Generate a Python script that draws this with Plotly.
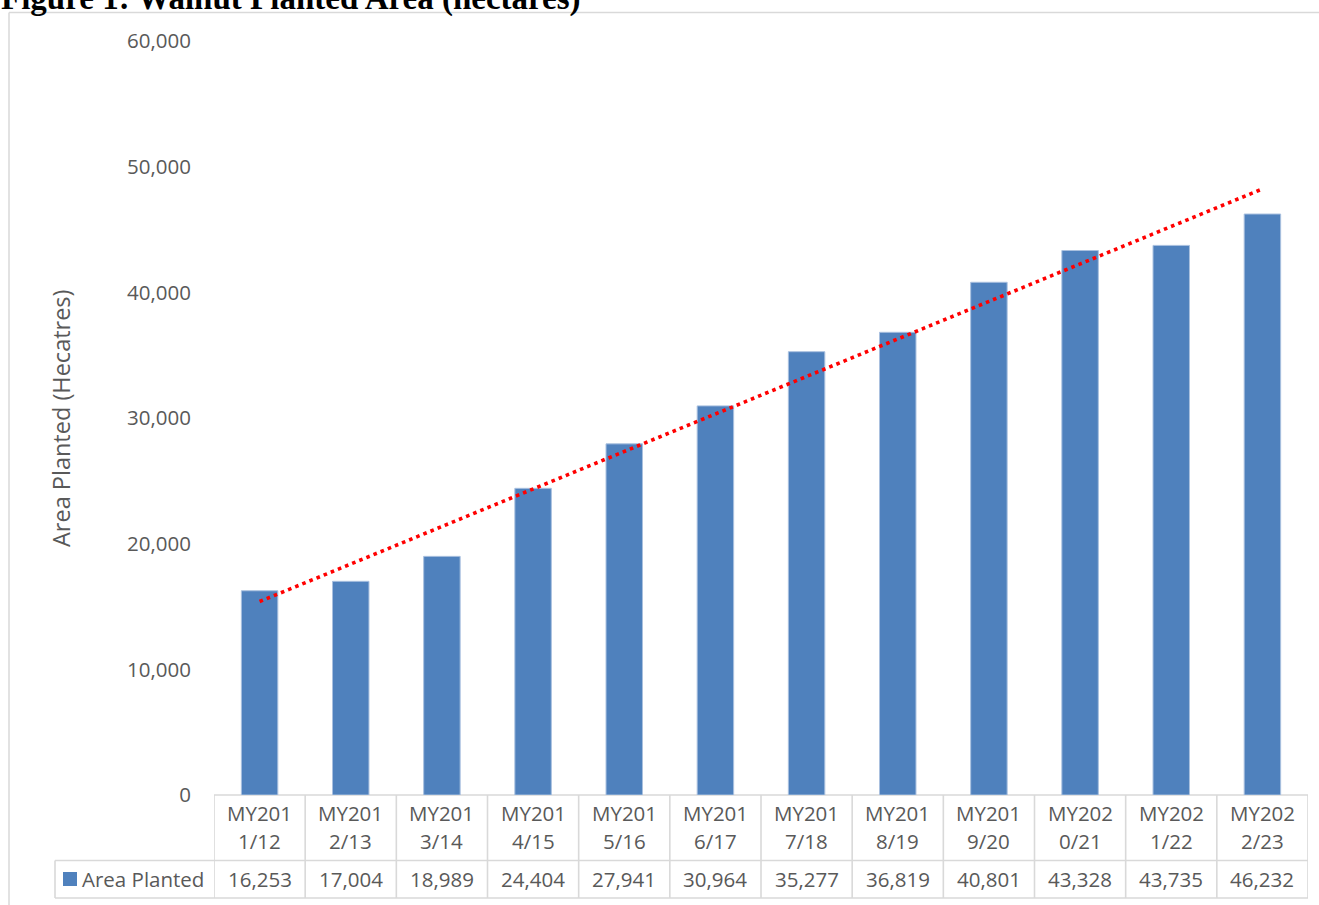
import numpy as np
import plotly.graph_objects as go

# Marketing years and walnut planted area (hectares)
categories = ["MY2011/12", "MY2012/13", "MY2013/14", "MY2014/15", "MY2015/16", "MY2016/17",
              "MY2017/18", "MY2018/19", "MY2019/20", "MY2020/21", "MY2021/22", "MY2022/23"]
area_planted = [16253, 17004, 18989, 24404, 27941, 30964, 35277, 36819, 40801, 43328, 43735, 46232]
y_ticks = [0, 10000, 20000, 30000, 40000, 50000, 60000]

W, H = 1319, 905
ML, MR, MT, MB = 214, 11, 41, 110
PW, PH = W - ML - MR, H - MT - MB

BLUE = "#4F81BD"
GRID = "#D9D9D9"
TXT = "#595959"
FONT = "Open Sans"
FS = 20.5


def px_x(p):
    """pixel column -> paper x"""
    return (p - ML) / PW


def px_y(p):
    """pixel row -> paper y"""
    return (H - MB - p) / PH


# linear trend over the series
idx = np.arange(len(area_planted))
slope, intercept = np.polyfit(idx, area_planted, 1)
trend_x = [categories[0], categories[-1]]
trend_y = [intercept, intercept + slope * idx[-1]]

fig = go.Figure()
fig.add_trace(go.Bar(
    x=categories, y=area_planted, name="Area Planted",
    marker=dict(color=BLUE, line=dict(color="#A9C0DF", width=1)),
    hoverinfo="x+y",
))
fig.add_trace(go.Scatter(
    x=trend_x, y=trend_y, mode="lines",
    line=dict(color="#FF0000", width=3.6, dash="3.6px,4.1px"),
    hoverinfo="skip",
))

shapes = []
line_style = dict(color=GRID, width=1.6)
row_top, row_mid, row_bot = 795, 860.5, 898
# table horizontal rules
shapes.append(dict(type="line", xref="paper", yref="paper", x0=0, x1=1,
                   y0=px_y(row_top), y1=px_y(row_top), line=line_style, layer="below"))
shapes.append(dict(type="line", xref="paper", yref="paper", x0=px_x(55), x1=1,
                   y0=px_y(row_mid), y1=px_y(row_mid), line=line_style))
shapes.append(dict(type="line", xref="paper", yref="paper", x0=px_x(55), x1=1,
                   y0=px_y(row_bot), y1=px_y(row_bot), line=line_style))
shapes.append(dict(type="line", xref="paper", yref="paper", x0=px_x(55), x1=px_x(55),
                   y0=px_y(row_mid), y1=px_y(row_bot), line=line_style))
# table column separators
for k in range(len(categories) + 1):
    xb = k - 0.5
    shapes.append(dict(type="line", xref="x", yref="paper", x0=xb, x1=xb,
                       y0=px_y(row_top), y1=px_y(row_bot), line=line_style))
# legend key
shapes.append(dict(type="rect", xref="paper", yref="paper",
                   x0=px_x(63), x1=px_x(77), y0=px_y(872), y1=px_y(886),
                   fillcolor=BLUE, line=dict(width=0)))
# chart frame
shapes.append(dict(type="line", xref="paper", yref="paper", x0=px_x(9), x1=px_x(W + 5),
                   y0=px_y(12.5), y1=px_y(12.5), line=dict(color=GRID, width=1.5)))
shapes.append(dict(type="line", xref="paper", yref="paper", x0=px_x(9), x1=px_x(9),
                   y0=px_y(12.5), y1=px_y(H + 5), line=dict(color=GRID, width=1.5)))

annotations = []
tfont = dict(family=FONT, size=FS, color=TXT)
for cat, val in zip(categories, area_planted):
    annotations.append(dict(x=cat, xref="x", yref="paper", y=px_y(813), text=cat[:5],
                            showarrow=False, font=tfont, xanchor="center", yanchor="middle"))
    annotations.append(dict(x=cat, xref="x", yref="paper", y=px_y(841), text=cat[5:],
                            showarrow=False, font=tfont, xanchor="center", yanchor="middle"))
    annotations.append(dict(x=cat, xref="x", yref="paper", y=px_y(879), text=f"{val:,}",
                            showarrow=False, font=tfont, xanchor="center", yanchor="middle"))
annotations.append(dict(x=px_x(80), xref="paper", yref="paper", y=px_y(879), text="Area Planted",
                        showarrow=False, font=tfont, xanchor="left", yanchor="middle"))
annotations.append(dict(x=px_x(61), xref="paper", yref="paper", y=0.5,
                        text="Area Planted (Hecatres)", textangle=-90, showarrow=False,
                        font=dict(family=FONT, size=23.5, color=TXT),
                        xanchor="center", yanchor="middle"))
annotations.append(dict(x=px_x(-1), xref="paper", yref="paper", y=px_y(-1),
                        text="<b>Figure 1: Walnut Planted Area (hectares)</b>", showarrow=False,
                        font=dict(family="Liberation Serif", size=33, color="#000000"),
                        xanchor="left", yanchor="middle"))

fig.update_layout(
    width=W, height=H,
    margin=dict(l=ML, r=MR, t=MT, b=MB, pad=0),
    paper_bgcolor="white", plot_bgcolor="white",
    showlegend=False, bargap=0.6,
    shapes=shapes, annotations=annotations,
)
fig.update_xaxes(showticklabels=False, showgrid=False, zeroline=False, showline=False,
                 range=[-0.5, len(categories) - 0.5])
fig.update_yaxes(range=[0, 60000], tickvals=y_ticks, tickformat=",", showgrid=False,
                 zeroline=False, showline=False, ticks="", ticklabelstandoff=22,
                 tickfont=dict(family=FONT, size=FS, color=TXT))

fig.write_html("out.html")
